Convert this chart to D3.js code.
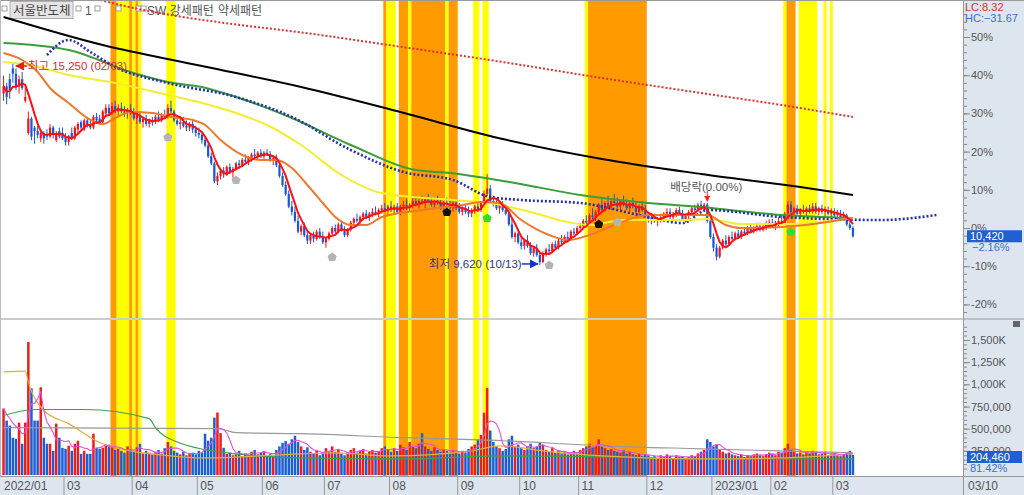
<!DOCTYPE html>
<html><head><meta charset="utf-8">
<script src="https://cdn.jsdelivr.net/npm/d3@7"></script>
<style>
body{margin:0;background:#fff;}
svg{display:block;}
text{font-family:"Liberation Sans","Noto Sans CJK KR",sans-serif;}
</style>
</head><body>
<svg id="c" width="1024" height="495"></svg>
<script>
// ---------------- DATA ----------------
const basePrice = 10650;           // reference close for % axis
const monthDays   = [3,17,22,21,21,20,21,22,20,19,22,21,19,20,7];
const monthLabels = ["2022/01","","03","04","05","06","07","08","09","10","11","12","2023/01","02","03"];
const lastDateLabel = "03/10";

// [open, high, low, close]
const candles = [
 // 2022/01
 [14400,14900,14200,14600],[14600,14700,14100,14300],[14800,14950,14250,14500],
 // 02
 [15100,15250,14700,14950],[14950,15100,14500,14600],[14600,14900,14400,14800],[14800,15000,14500,14550],[14200,14600,14150,14300],
 [13300,13900,13250,13700],[13700,13750,13100,13200],[13450,13500,13000,13350],[13350,13500,13150,13250],[13150,13400,13050,13300],
 [13300,13350,13000,13150],[13250,13400,13100,13200],[13200,13550,13150,13450],[13450,13500,13150,13250],[13100,13350,13050,13300],
 [13350,13450,13150,13200],[13300,13450,13100,13150],
 // 03
 [13200,13300,12950,13050],[13050,13250,12950,13200],[13300,13450,13100,13150],[13150,13500,13100,13450],[13400,13600,13300,13550],
 [13600,13650,13350,13450],[13400,13700,13350,13650],[13650,13750,13450,13500],[13550,13650,13400,13450],[13450,13800,13400,13750],
 [13750,13850,13550,13650],[13700,13800,13550,13600],[13600,13950,13550,13900],[13850,14100,13800,14000],[14000,14100,13800,13850],
 [13850,14150,13800,14050],[14050,14200,13850,13900],[13900,14100,13750,14000],[14000,14150,13850,13900],[13900,14050,13750,13850],
 [13850,14000,13700,13950],[13950,14100,13800,13850],
 // 04
 [13850,14000,13650,13700],[13700,13850,13550,13800],[13800,13900,13550,13600],[13600,13750,13450,13700],[13700,13800,13500,13550],
 [13550,13700,13450,13650],[13650,13750,13500,13600],[13600,13800,13550,13750],[13750,13900,13600,13650],[13650,13850,13600,13800],
 [13800,13950,13700,13750],[13750,14100,13700,14000],[14000,14200,13850,13900],[13900,13950,13600,13650],[13650,13800,13500,13550],
 [13550,13700,13400,13600],[13600,13750,13450,13500],[13500,13650,13350,13450],[13450,13600,13350,13550],[13550,13650,13300,13400],
 [13400,13500,13200,13300],
 // 05
 [13300,13450,13150,13250],[13250,13350,13000,13100],[13100,13200,12900,12950],[12950,13000,12600,12650],[12650,12750,12400,12450],
 [12450,12500,11900,11950],[11950,12200,11850,12100],[12100,12300,12000,12250],[12250,12350,12050,12150],[12150,12400,12100,12350],
 [12350,12450,12150,12200],[12200,12350,12050,12300],[12300,12500,12250,12450],[12450,12550,12300,12400],[12400,12600,12350,12550],
 [12550,12700,12450,12500],[12500,12650,12400,12600],[12600,12750,12500,12700],[12700,12850,12550,12650],[12650,12800,12550,12750],
 [12750,12850,12600,12650],
 // 06
 [12650,12800,12550,12750],[12750,12850,12650,12700],[12700,12800,12500,12550],[12550,12650,12400,12600],[12600,12700,12350,12400],
 [12400,12450,12050,12100],[12100,12200,11800,11850],[11850,11950,11550,11600],[11600,11700,11200,11250],[11250,11400,11000,11100],
 [11100,11250,10800,10850],[10850,11000,10500,10550],[10550,10750,10450,10700],[10700,10800,10400,10450],[10450,10600,10200,10300],
 [10300,10500,10200,10450],[10450,10550,10250,10350],[10350,10600,10300,10550],[10550,10650,10350,10400],[10400,10550,10200,10250],
 // 07
 [10250,10400,10100,10350],[10350,10550,10300,10500],[10500,10700,10450,10650],[10650,10750,10500,10550],[10550,10800,10500,10750],
 [10750,10850,10550,10600],[10600,10700,10400,10450],[10450,10650,10400,10600],[10600,10850,10550,10800],[10800,10950,10700,10900],
 [10900,11050,10800,10850],[10850,11000,10750,10950],[10950,11100,10850,11050],[11050,11150,10900,10950],[10950,11100,10850,11050],
 [11050,11200,10950,11100],[11100,11250,11000,11050],[11050,11200,10950,11150],[11150,11300,11050,11200],[11200,11350,11100,11150],
 [11150,11300,11000,11250],
 // 08
 [11250,11400,11100,11150],[11150,11300,11050,11250],[11250,11350,11050,11100],[11100,11300,11000,11250],[11250,11400,11150,11300],
 [11300,11450,11150,11200],[11200,11350,11100,11300],[11300,11500,11200,11400],[11400,11550,11250,11300],[11300,11450,11200,11400],
 [11400,11550,11300,11350],[11350,11500,11200,11450],[11450,11600,11350,11400],[11400,11500,11250,11300],[11300,11450,11200,11400],
 [11400,11550,11300,11350],[11350,11450,11150,11250],[11250,11400,11100,11350],[11350,11500,11250,11300],[11300,11450,11150,11200],
 [11200,11400,11100,11350],[11350,11450,11150,11200],
 // 09
 [11200,11350,11050,11100],[11100,11250,11000,11200],[11200,11300,11050,11100],[11100,11250,10950,11050],[11050,11200,10950,11150],
 [11150,11300,11050,11250],[11250,11350,11100,11150],[11150,11400,11100,11350],[11350,11700,11300,11600],[11600,12150,11550,11750],
 [11750,11850,11350,11400],[11400,11550,11250,11350],[11350,11450,11150,11200],[11200,11350,11050,11300],[11300,11400,11100,11150],
 [11150,11300,11000,11050],[11050,11150,10700,10750],[10750,10900,10350,10400],[10400,10550,10250,10500],[10500,10600,10200,10250],
 // 10
 [10250,10400,10050,10150],[10150,10350,10050,10300],[10300,10450,10100,10150],[10150,10250,9900,9950],[9950,10150,9850,10100],
 [10100,10200,9850,9900],[9900,10000,9620,9700],[9700,10000,9680,9950],[9950,10100,9850,10050],[10050,10200,9950,10000],
 [10000,10250,9950,10200],[10200,10300,10050,10100],[10100,10350,10050,10300],[10300,10450,10200,10250],[10250,10450,10200,10400],
 [10400,10550,10300,10350],[10350,10600,10300,10550],[10550,10650,10450,10500],[10500,10700,10450,10650],
 // 11
 [10650,10800,10550,10700],[10700,10900,10650,10850],[10850,11000,10750,10800],[10800,11050,10750,11000],[11000,11200,10900,10950],
 [10950,11150,10850,11100],[11100,11350,11000,11300],[11300,11450,11100,11150],[11150,11400,11100,11350],[11350,11550,11200,11250],
 [11250,11450,11150,11400],[11400,11600,11300,11350],[11350,11500,11200,11250],[11250,11450,11150,11400],[11400,11550,11250,11300],
 [11300,11450,11150,11200],[11200,11400,11100,11350],[11350,11500,11200,11250],[11250,11350,11050,11100],[11100,11300,11000,11250],
 [11250,11400,11100,11150],[11150,11300,10950,11000],
 // 12
 [11000,11100,10800,10850],[10850,11000,10750,10950],[10950,11050,10800,10850],[10850,10950,10700,10900],[10900,11050,10800,10950],
 [10950,11100,10850,11050],[11050,11200,10950,11100],[11100,11200,10900,10950],[10950,11100,10850,11050],[11050,11200,10950,11150],
 [11150,11250,11000,11050],[11050,11150,10850,10900],[10900,11050,10800,11000],[11000,11150,10900,11100],[11100,11250,11000,11200],
 [11200,11300,11050,11150],[11150,11350,11100,11300],[11300,11400,11150,11200],[11200,11350,11100,11300],[11300,11350,10800,10850],
 [10850,10900,10350,10400],
 // 2023/01
 [10400,10500,10000,10100],[10100,10200,9750,9850],[9850,10150,9800,10100],[10100,10350,10050,10300],[10300,10450,10150,10200],
 [10200,10450,10150,10400],[10400,10550,10300,10350],[10350,10550,10300,10500],[10500,10600,10350,10400],[10400,10600,10350,10550],
 [10550,10650,10450,10500],[10500,10700,10450,10650],[10650,10750,10500,10550],[10550,10700,10500,10650],[10650,10800,10550,10700],
 [10700,10800,10550,10600],[10600,10750,10550,10700],[10700,10850,10600,10750],[10750,10900,10650,10800],
 // 02
 [10800,10900,10650,10700],[10700,10850,10600,10800],[10800,10950,10700,10850],[10850,11000,10750,10800],[10800,11100,10750,11050],
 [11050,11400,11000,11300],[11300,11400,11050,11100],[11100,11250,10950,11200],[11200,11300,11000,11050],[11050,11200,10950,11150],
 [11150,11300,11050,11100],[11100,11250,10950,11200],[11200,11300,11050,11100],[11100,11350,11050,11250],[11250,11350,11050,11100],
 [11100,11250,11000,11200],[11200,11300,11050,11100],[11100,11250,10950,11150],[11150,11250,11000,11050],[11050,11200,10950,11100],
 // 03
 [11100,11200,10950,11000],[11000,11150,10900,11050],[11050,11150,10900,10950],[10950,11100,10850,11000],[11000,11050,10700,10750],
 [10750,10850,10600,10650],[10650,10700,10380,10420]
];

// volume, thousands of shares
const volume = [
 727,591,534,
 398,386,568,330,568,1477,955,591,591,966,398,330,330,250,557,398,284,
 273,307,250,330,364,216,250,216,216,443,284,273,284,307,320,300,260,280,250,230,300,270,
 240,290,330,220,250,230,210,240,260,220,280,350,300,250,230,210,240,200,220,230,210,
 250,230,443,364,398,625,682,450,284,216,230,200,210,250,190,220,200,240,260,210,230,
 250,200,220,190,260,300,340,360,330,380,420,350,300,260,290,240,220,260,200,230,
 280,250,300,240,270,220,200,230,260,280,230,250,270,220,240,260,230,250,280,300,260,
 240,280,250,320,290,260,350,300,280,330,450,300,270,250,290,260,240,270,250,230,260,240,
 220,250,230,270,300,320,380,430,680,960,480,350,300,280,250,270,380,420,300,320,
 280,260,300,330,280,300,350,320,260,240,280,230,250,220,240,210,230,250,220,
 260,280,300,330,290,310,380,300,280,260,270,250,240,230,260,220,240,210,200,220,190,210,
 200,180,190,170,200,180,210,190,170,200,180,190,170,180,200,190,220,240,260,380,350,
 300,320,260,240,220,230,210,200,190,210,180,200,190,210,220,200,190,210,230,
 220,200,240,230,280,330,260,240,220,230,210,240,220,250,230,210,220,240,200,210,
 220,200,190,210,230,251.12,204.46
];

// moving-average / indicator lines: [barIndex, price]
const maLong   = [[0,16533],[32,15752],[64,15167],[96,14581],[128,13884],[161,13131],[193,12574],[225,12156],[257,11793],[274,11570]];
const maGreen  = [[0,15808],[21,15613],[42,14971],[53,14720],[64,14581],[75,14302],[93,13717],[112,12964],[133,12267],[144,12183],[165,11905],[186,11570],[208,11347],[225,11235],[251,11012],[274,10929]];
const maYellow = [[0,15278],[10,15167],[21,14916],[36,14693],[53,14358],[64,14135],[75,13856],[85,13522],[96,12964],[109,12128],[122,11626],[145,11431],[157,11347],[170,11096],[182,10817],[189,10734],[200,10873],[219,10873],[227,10901],[238,10762],[253,10762],[274,10929]];
const maOrange = [[0,15529],[6,15334],[11,14999],[15,14553],[21,14135],[27,13717],[32,13550],[36,13717],[41,13884],[48,13856],[54,13745],[61,13661],[65,13522],[70,13103],[77,12685],[83,12546],[88,12546],[93,12323],[98,11849],[103,11347],[107,10957],[112,10734],[117,10734],[122,10957],[135,11152],[148,11291],[154,11375],[160,11347],[167,10873],[176,10455],[182,10315],[189,10455],[197,10734],[208,11012],[219,11012],[227,11012],[233,10734],[238,10650],[251,10678],[274,10929]];
const leadBlue = [[14,15473],[21,15891],[28,15557],[36,15139],[53,14693],[75,14302],[93,13745],[112,12825],[129,12211],[145,11988],[157,11514],[167,11431],[186,11347],[208,10957],[219,10789],[227,11152],[251,10957],[283,10873],[301,11012]];
const trendRed = [[25,17146],[35,16923],[109,15947],[161,15278],[193,14832],[225,14414],[251,14079],[274,13745]];

// volume average lines: [barIndex, thousands]
const volMA20  = [[0,1140],[7,1150],[8,1025],[13,705],[21,557],[32,330],[54,193],[64,170],[96,216],[106,227],[125,193],[151,250],[160,307],[174,250],[193,193],[225,159],[251,170],[274,216]];
const volMA60  = [[0,648],[10,716],[26,716],[47,614],[49,511],[55,364],[75,216],[96,170],[129,159],[161,193],[193,182],[225,159],[274,159]];
const volMA120 = [[0,511],[69,500],[75,455],[96,443],[129,398],[161,364],[193,307],[225,273],[274,227]];

// signal bands: [firstBar, lastBar]
const bandsOrange = [[35,36],[41,41],[43,43],[123,123],[128,130],[132,142],[144,146],[189,207],[253,255]];
const bandsYellow = [[37,40],[42,42],[44,44],[53,55],[124,126],[131,131],[143,143],[152,153],[155,156],[188,188],[252,252],[257,262],[265,265],[267,267]];

// pattern markers: [barIndex, price, kind]
const markers = [[53,13187,"gray"],[75,11988,"gray"],[106,9841,"gray"],[176,9619,"gray"],[198,10817,"gray"],
                 [143,11096,"black"],[192,10762,"black"],[156,10929,"green"],[254,10538,"green"]];

const pctTicks = [-20,-10,0,10,20,30,40,50];
const volTicks = [250,500,750,1000,1250,1500];

// ---------------- LAYOUT ----------------
const svg = d3.select("#c");
const W = 1024, H = 495, plotR = 963;
const topY0 = 0, topY1 = 318, volY0 = 320, volY1 = 475, axY0 = 476;
const NS = 310, step = 3.1;
const xb = d3.scaleBand().domain(d3.range(NS)).range([2, 2 + NS*step]).paddingInner(0).paddingOuter(0);
const xl = d3.scaleLinear().domain([0, NS]).range([2, 2 + NS*step]);
const xc = i => xl(i + 0.5);
const pctLo = -23.56, pctHi = 59.69;
const yPct = d3.scaleLinear().domain([pctLo, pctHi]).range([topY1, topY0]);
const yP = d3.scaleLinear().domain([basePrice*(1+pctLo/100), basePrice*(1+pctHi/100)]).range([topY1, topY0]);
const yV = d3.scaleLinear().domain([0, 1500]).range([473, 340]);

const cumStart = [0, ...d3.cumsum(monthDays)].slice(0, monthDays.length);

const defs = svg.append("defs");
defs.append("clipPath").attr("id","clipTop").append("rect").attr("x",0).attr("y",topY0).attr("width",plotR).attr("height",topY1-topY0);
defs.append("clipPath").attr("id","clipVol").append("rect").attr("x",0).attr("y",volY0).attr("width",plotR).attr("height",volY1-volY0);
defs.append("marker").attr("id","arrR").attr("viewBox","0 0 10 10").attr("refX",9).attr("refY",5)
  .attr("markerWidth",6).attr("markerHeight",6).attr("orient","auto")
  .append("path").attr("d","M0,0L10,5L0,10Z").attr("fill","#1c2fd0");
defs.append("marker").attr("id","arrL").attr("viewBox","0 0 10 10").attr("refX",9).attr("refY",5)
  .attr("markerWidth",6).attr("markerHeight",6).attr("orient","auto")
  .append("path").attr("d","M0,0L10,5L0,10Z").attr("fill","#e02020");

svg.append("rect").attr("width",W).attr("height",H).attr("fill","#fff");

// bands (both panels)
function drawBands(list, color){
  [[topY0, topY1],[volY0, volY1+1]].forEach(([a,b])=>{
    svg.append("g").selectAll("rect").data(list).join("rect")
      .attr("x", d=>xl(d[0])).attr("width", d=>xl(d[1]+1)-xl(d[0]))
      .attr("y", a).attr("height", b-a).attr("fill", color);
  });
}
drawBands(bandsOrange, "#ff9a00");
drawBands(bandsYellow, "#ffff00");

// legend (top-left)
const lg = svg.append("g");
const sq = (xx)=> lg.append("rect").attr("x",xx).attr("y",6).attr("width",5).attr("height",5).attr("fill","#fff").attr("stroke","#8a8a8a").attr("stroke-width",0.8);
sq(2);
lg.append("rect").attr("x",10).attr("y",1.5).attr("width",63).attr("height",17).attr("fill","#e4e4e4").attr("stroke","#b0b0b0");
lg.append("text").attr("x",13).attr("y",15).attr("font-size",12.5).attr("fill","#444").text("서울반도체");
sq(76); lg.append("text").attr("x",85).attr("y",15).attr("font-size",12).attr("fill","#555").text("1");
sq(95); sq(116); sq(136); sq(141);
lg.append("text").attr("x",147).attr("y",15).attr("font-size",12).attr("fill","#555").text("SW 강세패턴");
lg.append("text").attr("x",218).attr("y",15).attr("font-size",12).attr("fill","#555").text("약세패턴");

// ---------- top panel: candles ----------
const topG = svg.append("g").attr("clip-path","url(#clipTop)");
const upC = "#f01414", dnC = "#1a56d6";
const cg = topG.append("g").selectAll("g").data(candles).join("g");
cg.append("line")
  .attr("x1",(d,i)=>xc(i)).attr("x2",(d,i)=>xc(i))
  .attr("y1",d=>yP(d[1])).attr("y2",d=>yP(d[2]))
  .attr("stroke",d=>d[3]>=d[0]?upC:dnC).attr("stroke-width",1);
cg.append("rect")
  .attr("x",(d,i)=>xc(i)-1.1).attr("width",2.2)
  .attr("y",d=>yP(Math.max(d[0],d[3])))
  .attr("height",d=>Math.max(1, Math.abs(yP(d[0])-yP(d[3]))))
  .attr("fill",d=>d[3]>=d[0]?upC:dnC);

// lines
const lineF = d3.line().x(d=>xc(d[0])).y(d=>yP(d[1])).curve(d3.curveMonotoneX);
function drawLine(data, color, w, dash){
  const p = topG.append("path").datum(data).attr("d",lineF).attr("fill","none")
    .attr("stroke",color).attr("stroke-width",w).attr("stroke-linejoin","round");
  if (dash) p.attr("stroke-dasharray",dash);
}
drawLine(trendRed, "#e23030", 2, "2,2");
drawLine(maLong, "#000", 2);
drawLine(maGreen, "#3a9e3a", 2);
drawLine(leadBlue, "#2430b0", 2.6, "2,2");
drawLine(maYellow, "#f4ee30", 2);
drawLine(maOrange, "#f0782a", 2);
// 5-day average of closes
const closes = candles.map(d=>d[3]);
const ma5 = closes.map((c,i)=>[i, d3.mean(closes.slice(Math.max(0,i-4), i+1))]);
topG.append("path").datum(ma5).attr("d", d3.line().x(d=>xc(d[0])).y(d=>yP(d[1])))
  .attr("fill","none").attr("stroke","#ff1010").attr("stroke-width",2);

// markers
const pent = "M0,-4.5L4.5,-1L3,4L-3,4L-4.5,-1Z";
const mcol = {gray:"#b4b4b4", black:"#111", green:"#2ee02e"};
topG.append("g").selectAll("path").data(markers).join("path")
  .attr("d",pent).attr("transform",d=>`translate(${xc(d[0])},${yP(d[1])})`)
  .attr("fill",d=>mcol[d[2]]);

// annotations
const hiIdx = d3.maxIndex(candles, d=>d[1]);
const loIdx = d3.minIndex(candles, d=>d[2]);
svg.append("line").attr("x1",xc(hiIdx)+14).attr("x2",xc(hiIdx)+3).attr("y1",yP(candles[hiIdx][1])+3).attr("y2",yP(candles[hiIdx][1])+3)
  .attr("stroke","#e02020").attr("stroke-width",1.5).attr("marker-end","url(#arrL)");
svg.append("text").attr("x",xc(hiIdx)+15).attr("y",yP(candles[hiIdx][1])+7).attr("font-size",11.5).attr("fill","#d83030")
  .text("최고 15,250 (02/03)");
svg.append("text").attr("x",xc(loIdx)-111).attr("y",yP(candles[loIdx][2])+3).attr("font-size",11.5).attr("fill","#33338f")
  .text("최저 9,620 (10/13)");
svg.append("line").attr("x1",xc(loIdx)-18).attr("x2",xc(loIdx)-2).attr("y1",yP(candles[loIdx][2])-1).attr("y2",yP(candles[loIdx][2])-1)
  .attr("stroke","#1c2fd0").attr("stroke-width",1.5).attr("marker-end","url(#arrR)");
const divIdx = 227;
svg.append("text").attr("x",xc(divIdx)-37).attr("y",191).attr("font-size",11.5).attr("fill","#555").text("배당락(0.00%)");
svg.append("path").attr("d","M-3,-4L3,-4L0,2Z").attr("transform",`translate(${xc(divIdx)},${yP(candles[divIdx][1])-3})`).attr("fill","#ff2020");
svg.append("line").attr("x1",xc(divIdx)).attr("x2",xc(divIdx)).attr("y1",yP(candles[divIdx][1])-12).attr("y2",yP(candles[divIdx][1])-5).attr("stroke","#ff2020").attr("stroke-width",1);

// ---------- volume panel ----------
const vol = svg.append("g").attr("clip-path","url(#clipVol)");
vol.append("g").selectAll("rect").data(volume).join("rect")
  .attr("x",(d,i)=>xb(i)+0.3).attr("width",step-0.6)
  .attr("y",d=>yV(d)).attr("height",d=>yV(0)-yV(d)+2)
  .attr("fill",(d,i)=>candles[i][3]>=candles[i][0]?"#ee1c1c":"#1c5fd2");
const vLine = d3.line().x(d=>xc(d[0])).y(d=>yV(d[1])).curve(d3.curveMonotoneX);
vol.append("path").datum(volMA120).attr("d",vLine).attr("fill","none").attr("stroke","#999").attr("stroke-width",1.2);
vol.append("path").datum(volMA60).attr("d",vLine).attr("fill","none").attr("stroke","#3fa048").attr("stroke-width",1.2);
vol.append("path").datum(volMA20).attr("d",vLine).attr("fill","none").attr("stroke","#e0b040").attr("stroke-width",1.2);
const vma5 = volume.map((v,i)=>[i, d3.mean(volume.slice(Math.max(0,i-4), i+1))]);
vol.append("path").datum(vma5).attr("d",d3.line().x(d=>xc(d[0])).y(d=>yV(d[1]))).attr("fill","none").attr("stroke","#e050e0").attr("stroke-width",1.1);

// ---------- frames & axes ----------
svg.append("rect").attr("x",plotR+0.5).attr("y",0).attr("width",W-plotR).attr("height",H).attr("fill","#dde5ef");
svg.append("rect").attr("x",0).attr("y",axY0).attr("width",W).attr("height",H-axY0).attr("fill","#dde5ef");
svg.append("line").attr("x1",0).attr("x2",W).attr("y1",0.5).attr("y2",0.5).attr("stroke","#999");
svg.append("line").attr("x1",0).attr("x2",W).attr("y1",topY1+1).attr("y2",topY1+1).attr("stroke","#999");
svg.append("line").attr("x1",0).attr("x2",W).attr("y1",axY0+0.5).attr("y2",axY0+0.5).attr("stroke","#999");
svg.append("line").attr("x1",plotR+0.5).attr("x2",plotR+0.5).attr("y1",0).attr("y2",H).attr("stroke","#999");
svg.append("line").attr("x1",0.5).attr("x2",0.5).attr("y1",0).attr("y2",axY0).attr("stroke","#bbb");

function styleAxis(g){
  g.select(".domain").remove();
  g.selectAll(".tick line").attr("stroke","#888");
  g.selectAll("text").attr("fill","#555").attr("font-size",11).attr("font-family","Liberation Sans, sans-serif");
}
svg.append("g").attr("transform",`translate(${plotR+1},0)`)
  .call(d3.axisRight(yPct).tickValues(d3.range(-22,58,2)).tickSize(3).tickFormat(""))
  .call(styleAxis);
svg.append("g").attr("transform",`translate(${plotR+1},0)`)
  .call(d3.axisRight(yPct).tickValues(pctTicks).tickSize(6).tickPadding(1).tickFormat(d=>d+"%"))
  .call(styleAxis);
const fmtVol = d => d>=1000 ? d3.format(",")(d)+"K" : d3.format(",")(d*1000);
svg.append("g").attr("transform",`translate(${plotR+1},0)`)
  .call(d3.axisRight(yV).tickValues(d3.range(50,1700,50)).tickSize(3).tickFormat(""))
  .call(styleAxis);
svg.append("g").attr("transform",`translate(${plotR+1},0)`)
  .call(d3.axisRight(yV).tickValues(volTicks).tickSize(6).tickPadding(1).tickFormat(fmtVol))
  .call(styleAxis);

// right-side info
const last = candles[candles.length-1];
const chg = (last[3]/basePrice-1)*100;
const lowAll = d3.min(candles,d=>d[2]), highAll = d3.max(candles,d=>d[1]);
svg.append("text").attr("x",965).attr("y",11).attr("font-size",11).attr("fill","#e03030").text("LC:"+d3.format(".2f")((last[3]/lowAll-1)*100));
svg.append("text").attr("x",965).attr("y",22).attr("font-size",11).attr("fill","#3b6fd0").text("HC:"+d3.format(".2f")((last[3]/highAll-1)*100));
svg.append("rect").attr("x",967).attr("y",yP(last[3])-6).attr("width",55).attr("height",12).attr("fill","#1f5fd2");
svg.append("text").attr("x",970).attr("y",yP(last[3])+4).attr("font-size",11).attr("fill","#fff").text(d3.format(",")(last[3]));
svg.append("text").attr("x",972).attr("y",yP(last[3])+15).attr("font-size",11).attr("fill","#3b6fd0").text(d3.format(".2f")(chg)+"%");
const lastV = volume[volume.length-1], prevV = volume[volume.length-2];
svg.append("rect").attr("x",967).attr("y",451).attr("width",55).attr("height",12).attr("fill","#1f5fd2");
svg.append("text").attr("x",970).attr("y",461).attr("font-size",11).attr("fill","#fff").text(d3.format(",")(Math.round(lastV*1000)));
svg.append("text").attr("x",970).attr("y",472).attr("font-size",11).attr("fill","#3b6fd0").text(d3.format(".2f")(lastV/prevV*100)+"%");
svg.append("rect").attr("x",1013).attr("y",321).attr("width",7).attr("height",6).attr("fill","#666");

// x axis
const xa = svg.append("g");
monthLabels.forEach((lab,k)=>{
  if(!lab) return;
  const xx = k===0 ? 1 : xl(cumStart[k]);
  if(k>0) xa.append("line").attr("x1",xx).attr("x2",xx).attr("y1",axY0).attr("y2",H).attr("stroke","#999");
  xa.append("text").attr("x",xx+3).attr("y",490).attr("font-size",12).attr("fill","#555").text(lab);
});
xa.append("text").attr("x",968).attr("y",490).attr("font-size",12).attr("fill","#555").text(lastDateLabel);
</script>
</body></html>
